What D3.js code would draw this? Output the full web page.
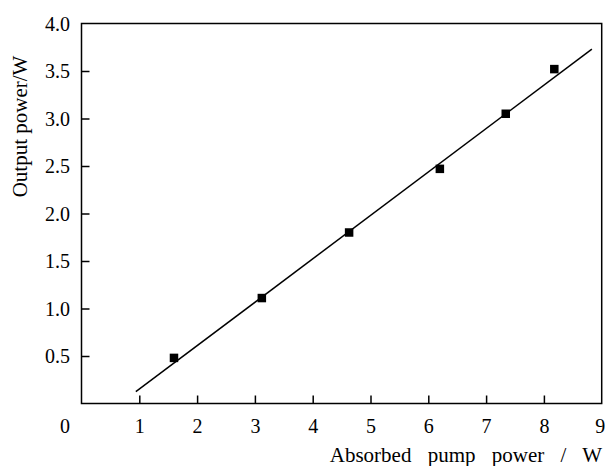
<!DOCTYPE html>
<html>
<head>
<meta charset="utf-8">
<script src="https://cdn.jsdelivr.net/npm/d3@7"></script>
<style>
  html, body { margin: 0; padding: 0; background: #fff; }
  svg { display: block; }
  svg text { font-family: "Liberation Serif", "Times New Roman", Times, serif !important; fill: #000; }
</style>
</head>
<body>
<svg id="chart" width="605" height="466"></svg>
<script>
// ---- data ----
const pumpPower   = [1.60, 3.12, 4.63, 6.20, 7.34, 8.18];   // absorbed pump power (W)
const outputPower = [0.48, 1.11, 1.80, 2.47, 3.05, 3.52];   // output power (W)
const fitX = [0.94, 8.83];
const fitY = [0.124, 3.73];
const xTickValues = [1, 2, 3, 4, 5, 6, 7, 8, 9];
const yTickValues = [0.5, 1.0, 1.5, 2.0, 2.5, 3.0, 3.5, 4.0];
const xLabel = "Absorbed pump power / W";
const yLabel = "Output power/W";

// ---- layout ----
const W = 605, H = 466;
const m = { left: 81.5, right: 3.3, top: 23.5, bottom: 62.5 };
const svg = d3.select("#chart");

const x = d3.scaleLinear().domain([0, 9]).range([m.left, W - m.right]);
const y = d3.scaleLinear().domain([0, 4]).range([H - m.bottom, m.top]);

const g = svg.append("g");

// frame
g.append("rect")
  .attr("x", x(0)).attr("y", y(4))
  .attr("width", x(9) - x(0)).attr("height", y(0) - y(4))
  .attr("fill", "none").attr("stroke", "#000").attr("stroke-width", 1.5);

// x axis (ticks inward)
const xAxis = d3.axisBottom(x).tickValues(xTickValues).tickSize(-8).tickPadding(0)
  .tickFormat(d3.format("d"));
const gx = g.append("g").attr("transform", `translate(0,${y(0)})`).call(xAxis)
  .attr("font-family", null).attr("font-size", null);
gx.select(".domain").remove();
gx.selectAll(".tick line").attr("stroke", "#000").attr("stroke-width", 1.5)
  .filter(d => d === 9).remove();
gx.selectAll(".tick text")
  .attr("y", 29).attr("dy", null)
  .attr("x", d => d === 9 ? -2 : 0)
  .style("font-size", "20px");

// origin label "0"
g.append("text")
  .attr("x", x(0) - 16.5).attr("y", y(0) + 29)
  .attr("text-anchor", "middle").style("font-size", "20px")
  .text("0");

// y axis (ticks inward)
const yAxis = d3.axisLeft(y).tickValues(yTickValues).tickSize(-8).tickPadding(0)
  .tickFormat(d3.format(".1f"));
const gy = g.append("g").attr("transform", `translate(${x(0)},0)`).call(yAxis)
  .attr("font-family", null).attr("font-size", null);
gy.select(".domain").remove();
gy.selectAll(".tick line").attr("stroke", "#000").attr("stroke-width", 1.5)
  .filter(d => d === 4).remove();
gy.selectAll(".tick text")
  .attr("x", -11.5).attr("dy", "0.34em")
  .attr("text-anchor", "end")
  .style("font-size", "20px");

// fit line
const line = d3.line().x(d => x(d[0])).y(d => y(d[1]));
g.append("path")
  .datum(d3.zip(fitX, fitY))
  .attr("d", line)
  .attr("fill", "none").attr("stroke", "#000").attr("stroke-width", 1.5);

// data squares
const s = 8.5;
g.selectAll("rect.pt")
  .data(d3.zip(pumpPower, outputPower))
  .join("rect")
  .attr("class", "pt")
  .attr("x", d => x(d[0]) - s / 2).attr("y", d => y(d[1]) - s / 2)
  .attr("width", s).attr("height", s)
  .attr("fill", "#000");

// axis titles
g.append("text")
  .attr("x", 602).attr("y", 462)
  .attr("text-anchor", "end")
  .style("font-size", "21px")
  .style("word-spacing", "11px")
  .text(xLabel);

g.append("text")
  .attr("transform", `translate(27,${(55 + 198) / 2}) rotate(-90)`)
  .attr("text-anchor", "middle")
  .style("font-size", "21px")
  .text(yLabel);
</script>
</body>
</html>
